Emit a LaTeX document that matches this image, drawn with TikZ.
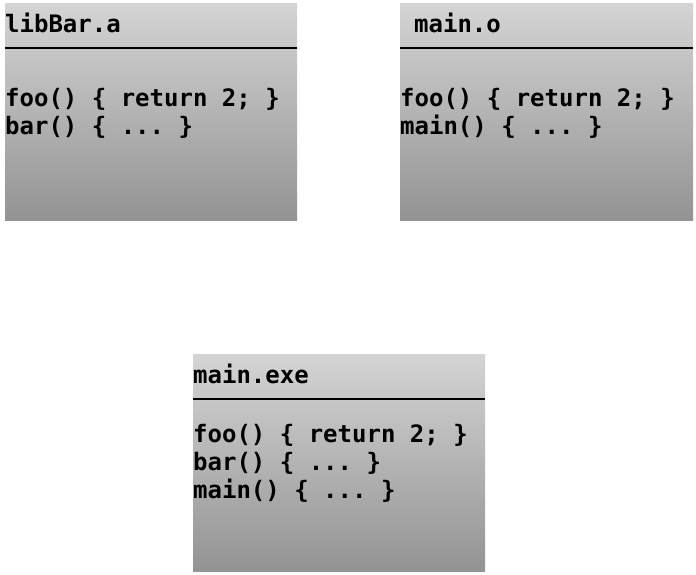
\documentclass[tikz,border=0pt]{standalone}
\usepackage{fontspec}
\setmonofont{DejaVu Sans Mono}
\usetikzlibrary{calc}
\definecolor{boxtop}{RGB}{212,212,212}
\definecolor{boxbottom}{RGB}{147,147,147}
\begin{document}
\begin{tikzpicture}[x=1pt,y=-1pt,
  filebox/.style={rectangle, inner sep=0pt, draw=none, anchor=north west,
    minimum width=292pt, minimum height=217pt,
    top color=boxtop, bottom color=boxbottom},
  divider/.style={line width=2pt, black},
  codetext/.style={anchor=base west, inner sep=0pt,
    font=\ttfamily\bfseries\fontsize{24}{28}\selectfont}]
\useasboundingbox (0,0) rectangle (696,574);

% libBar.a
\node[filebox] (lib) at (5,3) {};
\draw[divider] ($(lib.north west)+(0,45)$) -- ($(lib.north east)+(0,45)$);
\node[codetext] (libname) at (5,32) {libBar.a};
\node[codetext] (libfoo) at (5,106) {foo() \{ return 2; \}};
\node[codetext] (libbar) at (5,134) {bar() \{ ... \}};

% main.o
\node[filebox, minimum width=293pt] (obj) at (400,3) {};
\draw[divider] ($(obj.north west)+(0,45)$) -- ($(obj.north east)+(0,45)$);
\node[codetext] (objname) at (414,32) {main.o};
\node[codetext] (objfoo) at (400,106) {foo() \{ return 2; \}};
\node[codetext] (objmain) at (400,134) {main() \{ ... \}};

% main.exe
\node[filebox] (exe) at (193,354) {};
\draw[divider] ($(exe.north west)+(0,45)$) -- ($(exe.north east)+(0,45)$);
\node[codetext] (exename) at (193,383) {main.exe};
\node[codetext] (exefoo) at (193,442) {foo() \{ return 2; \}};
\node[codetext] (exebar) at (193,470) {bar() \{ ... \}};
\node[codetext] (exemain) at (193,498) {main() \{ ... \}};
\end{tikzpicture}
\end{document}
